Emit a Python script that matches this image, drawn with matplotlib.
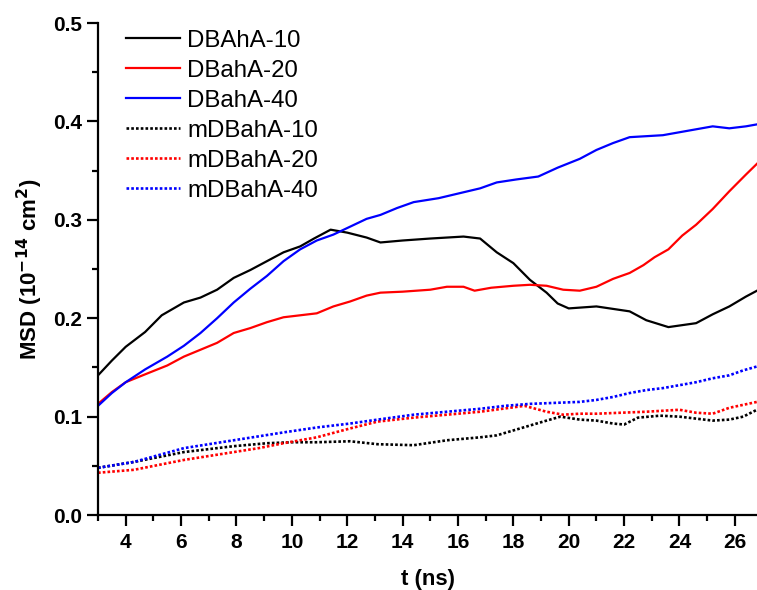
import numpy as np
import matplotlib.pyplot as plt

plt.rcParams['font.family'] = ['Liberation Sans', 'DejaVu Sans']

# MSD curves (10^-14 cm^2) versus time (ns)
t_dbaha10 = [3.0, 3.5, 4.0, 4.7, 5.3, 6.1, 6.7, 7.3, 7.9, 8.5, 9.1, 9.7, 10.3, 10.8, 11.4, 12.0, 12.7, 13.2, 14.0, 15.0, 16.2, 16.8, 17.4, 18.0, 18.6, 19.2, 19.6, 20.0, 21.0, 22.2, 22.8, 23.6, 24.6, 25.2, 25.8, 26.4, 26.8]
y_dbaha10 = [0.142, 0.157, 0.171, 0.186, 0.203, 0.216, 0.221, 0.229, 0.241, 0.249, 0.258, 0.267, 0.273, 0.281, 0.290, 0.287, 0.282, 0.277, 0.279, 0.281, 0.283, 0.281, 0.267, 0.256, 0.239, 0.226, 0.215, 0.210, 0.212, 0.207, 0.198, 0.191, 0.195, 0.204, 0.212, 0.222, 0.228]

t_dbaha20 = [3.0, 3.5, 4.0, 4.7, 5.5, 6.1, 6.7, 7.3, 7.9, 8.5, 9.1, 9.7, 10.3, 10.9, 11.5, 12.1, 12.7, 13.2, 14.0, 15.0, 15.6, 16.2, 16.6, 17.2, 18.0, 18.6, 19.2, 19.8, 20.4, 21.0, 21.6, 22.2, 22.7, 23.1, 23.6, 24.1, 24.6, 25.2, 25.8, 26.4, 26.8]
y_dbaha20 = [0.113, 0.125, 0.135, 0.143, 0.152, 0.161, 0.168, 0.175, 0.185, 0.190, 0.196, 0.201, 0.203, 0.205, 0.212, 0.217, 0.223, 0.226, 0.227, 0.229, 0.232, 0.232, 0.228, 0.231, 0.233, 0.234, 0.233, 0.229, 0.228, 0.232, 0.240, 0.246, 0.254, 0.262, 0.270, 0.284, 0.295, 0.311, 0.329, 0.346, 0.357]

t_dbaha40 = [3.0, 3.5, 4.0, 4.7, 5.5, 6.1, 6.7, 7.3, 7.9, 8.5, 9.1, 9.7, 10.3, 10.9, 11.5, 12.1, 12.7, 13.2, 13.8, 14.4, 15.3, 16.2, 16.8, 17.4, 18.1, 18.9, 19.6, 20.4, 21.0, 21.6, 22.2, 22.8, 23.4, 24.0, 24.6, 25.2, 25.8, 26.4, 26.8]
y_dbaha40 = [0.111, 0.124, 0.135, 0.148, 0.161, 0.172, 0.185, 0.200, 0.216, 0.230, 0.243, 0.258, 0.270, 0.279, 0.285, 0.293, 0.301, 0.305, 0.312, 0.318, 0.322, 0.328, 0.332, 0.338, 0.341, 0.344, 0.353, 0.362, 0.371, 0.378, 0.384, 0.385, 0.386, 0.389, 0.392, 0.395, 0.393, 0.395, 0.397]

t_mdbaha10 = [3.0, 4.3, 5.2, 6.1, 7.0, 7.9, 9.1, 10.0, 10.9, 12.1, 13.1, 14.4, 15.6, 16.8, 17.4, 18.0, 18.6, 19.2, 19.7, 20.4, 21.0, 21.6, 22.0, 22.5, 23.3, 24.0, 24.6, 25.2, 25.8, 26.3, 26.8]
y_mdbaha10 = [0.048, 0.054, 0.059, 0.064, 0.067, 0.070, 0.073, 0.074, 0.074, 0.075, 0.072, 0.071, 0.076, 0.079, 0.081, 0.086, 0.091, 0.096, 0.100, 0.097, 0.096, 0.093, 0.092, 0.099, 0.101, 0.100, 0.098, 0.096, 0.097, 0.100, 0.107]

t_mdbaha20 = [3.0, 4.3, 5.2, 6.1, 7.0, 7.9, 8.8, 9.7, 10.9, 12.1, 13.1, 14.4, 15.6, 16.8, 17.6, 18.4, 19.2, 19.8, 20.4, 21.0, 21.9, 22.8, 24.0, 24.6, 25.2, 25.8, 26.3, 26.8]
y_mdbaha20 = [0.043, 0.046, 0.051, 0.056, 0.060, 0.064, 0.068, 0.073, 0.079, 0.088, 0.095, 0.099, 0.102, 0.105, 0.108, 0.111, 0.105, 0.102, 0.103, 0.103, 0.104, 0.105, 0.107, 0.104, 0.103, 0.109, 0.112, 0.115]

t_mdbaha40 = [3.0, 4.3, 5.2, 6.1, 7.0, 7.9, 8.8, 9.7, 10.9, 12.1, 13.1, 14.4, 15.6, 16.8, 17.7, 18.6, 19.5, 20.4, 21.0, 21.6, 22.2, 22.8, 23.4, 24.0, 24.6, 25.2, 25.8, 26.3, 26.8]
y_mdbaha40 = [0.048, 0.054, 0.061, 0.068, 0.072, 0.076, 0.080, 0.084, 0.089, 0.093, 0.097, 0.102, 0.105, 0.108, 0.111, 0.113, 0.114, 0.115, 0.117, 0.120, 0.124, 0.127, 0.129, 0.132, 0.135, 0.139, 0.142, 0.147, 0.151]

fig = plt.figure(figsize=(7.57, 5.90), dpi=100)
ax = fig.add_axes([0.1295, 0.127, 0.8705, 0.834])

solid = dict(lw=1.6, ls='-')
dotted = dict(lw=1.9, ls=(0, (1, 0.8)))

ax.plot(t_dbaha10, y_dbaha10, color='black', label='DBAhA-10', **solid)
ax.plot(t_dbaha20, y_dbaha20, color='#ff0000', label='DBahA-20', **solid)
ax.plot(t_dbaha40, y_dbaha40, color='#0000ff', label='DBahA-40', **solid)
ax.plot(t_mdbaha10, y_mdbaha10, color='black', label='mDBahA-10', **dotted)
ax.plot(t_mdbaha20, y_mdbaha20, color='#ff0000', label='mDBahA-20', **dotted)
ax.plot(t_mdbaha40, y_mdbaha40, color='#0000ff', label='mDBahA-40', **dotted)

ax.set_xlim(3, 26.8)
ax.set_ylim(0, 0.5)
ax.set_xticks(np.arange(4, 27, 2))
ax.set_xticks(np.arange(3, 27, 1), minor=True)
ax.set_yticks(np.arange(0, 0.51, 0.1))
ax.set_yticks(np.arange(0, 0.51, 0.05), minor=True)
ax.set_yticklabels(['0.0', '0.1', '0.2', '0.3', '0.4', '0.5'])

for side in ['top', 'right']:
    ax.spines[side].set_visible(False)
for side in ['left', 'bottom']:
    ax.spines[side].set_linewidth(1.6)

ax.tick_params(which='major', direction='out', length=8, width=1.6,
               labelsize=15)
ax.tick_params(which='minor', direction='out', length=4.5, width=1.6)
ax.tick_params(axis='x', which='major', pad=5)
ax.tick_params(axis='y', which='major', pad=3.5)
for lbl in ax.get_xticklabels() + ax.get_yticklabels():
    lbl.set_fontweight('bold')

ax.set_xlabel('t (ns)', fontsize=16, fontweight='bold', labelpad=12)
ax.set_ylabel('MSD (10$^{\\mathbf{-14}}$ cm$^{\\mathbf{2}}$)', fontsize=16,
              fontweight='bold', labelpad=6)

ax.legend(loc='upper left', bbox_to_anchor=(0.042, 0.986), frameon=False,
          fontsize=17.3, handlelength=2.25, handletextpad=0.3,
          labelspacing=0.33, borderpad=0.0, borderaxespad=0.0)

fig.savefig('out.png', dpi=100)
